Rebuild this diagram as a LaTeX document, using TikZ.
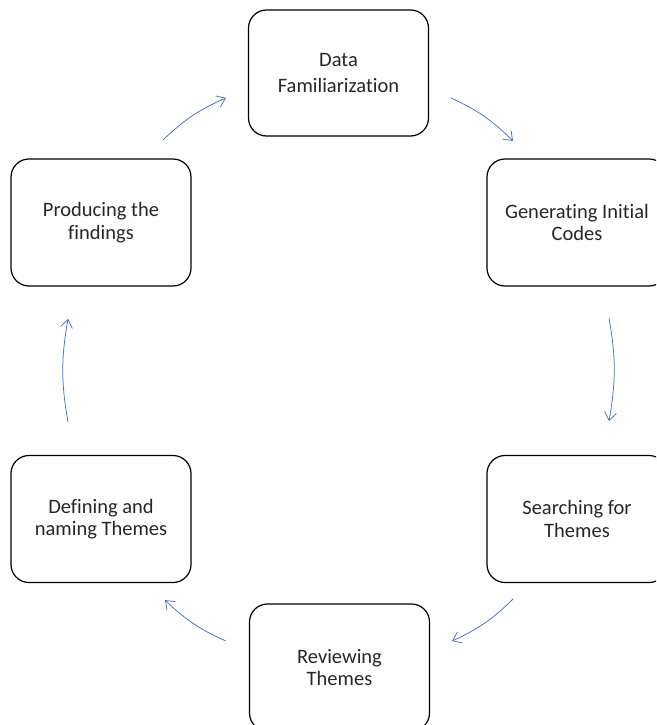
\documentclass[tikz,border=0pt]{standalone}
\usepackage{fontspec}
\setmainfont{Carlito}[Ligatures=CommonOff]
\usetikzlibrary{arrows.meta}
\definecolor{arrowblue}{HTML}{4472C4}
\begin{document}
\begin{tikzpicture}[x=1pt,y=-1pt,
  stage/.style={draw=black, line width=1.2pt, rounded corners=18pt,
    minimum width=180pt, minimum height=127pt, align=center,
    font=\fontsize{20.5}{22.5}\selectfont, inner sep=0pt, text=black!85},
  flow/.style={draw=arrowblue, line width=0.75pt,
    -{Straight Barb[length=8pt,width=12pt]}, bend left=10}]
\useasboundingbox (0,0) rectangle (656,725);
\clip (0,0) rectangle (656,725);
\node[stage, minimum height=126pt, font=\fontsize{20.5}{25.5}\selectfont] (data) at (338.5,73) {Data\\Familiarization};
\node[stage] (gen) at (577,222.5) {Generating Initial\\Codes};
\node[stage] (search) at (577,519) {Searching for\\Themes};
\node[stage] (review) at (339.5,667.5) {Reviewing\\Themes};
\node[stage] (define) at (101,519) {Defining and\\naming Themes};
\node[stage] (produce) at (101,222.5) {Producing the\\findings};
\coordinate (a1s) at (451,98);  \coordinate (a1e) at (513,141);
\coordinate (a2s) at (609,318); \coordinate (a2e) at (609,421);
\coordinate (a3s) at (513,599); \coordinate (a3e) at (452,641);
\coordinate (a4s) at (226,641); \coordinate (a4e) at (165,600);
\coordinate (a5s) at (68,422);  \coordinate (a5e) at (68,319);
\coordinate (a6s) at (163,140); \coordinate (a6e) at (226,98);
\draw[flow] (a1s) to (a1e);
\draw[flow] (a2s) to (a2e);
\draw[flow] (a3s) to (a3e);
\draw[flow] (a4s) to (a4e);
\draw[flow] (a5s) to (a5e);
\draw[flow] (a6s) to (a6e);
\end{tikzpicture}
\end{document}
